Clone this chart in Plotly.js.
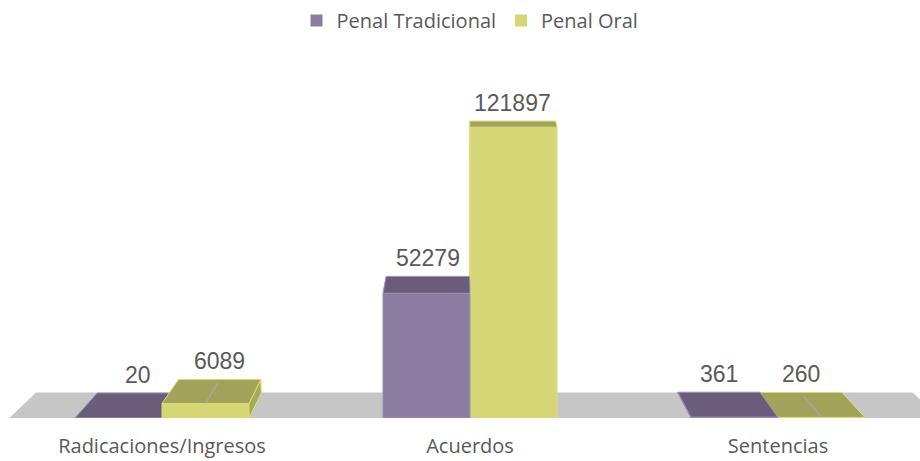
<!DOCTYPE html>
<html>
<head>
<meta charset="utf-8">
<script src="https://cdn.plot.ly/plotly-3.0.1.min.js"></script>
<style>html,body{margin:0;padding:0;background:#fff;}#chart{width:920px;height:461px;}</style>
</head>
<body>
<div id="chart"></div>
<script>
// ---- data ----
const categories = ["Radicaciones/Ingresos", "Acuerdos", "Sentencias"];
const seriesNames = ["Penal Tradicional", "Penal Oral"];
const penalTradicional = [20, 52279, 361];
const penalOral = [6089, 121897, 260];

// ---- styles ----
const FRONT = ["#8B7CA2", "#D5D777"];
const TOP = ["#6A5C7B", "#A2A35B"];
const SIDE = ["#766892", "#A7A85C"];
const EDGE = ["#9E91BA", "#DCDD72"];
const FLOOR = "#C6C6C6";
const TEXT = "#595959";

// ---- geometry helpers (derived from the axis ranges) ----
const W = 920, H = 461, M = {l: 8, r: 0, t: 84, b: 43, pad: 0};
const PW = W - M.l - M.r, PH = H - M.t - M.b;
const XR = [-0.5, -0.5 + PW / 308];
const YR = [0, 140000];
const xpx = x => M.l + (x - XR[0]) / (XR[1] - XR[0]) * PW;
const xdat = p => XR[0] + (p - M.l) / PW * (XR[1] - XR[0]);
const ypx = y => M.t + (1 - (y - YR[0]) / (YR[1] - YR[0])) * PH;
const ydat = p => YR[0] + (1 - (p - M.t) / PH) * (YR[1] - YR[0]);
const BASE = ypx(0);
const VX = 462, PERSP = 435, FLOOR_DEPTH = 25, DEPTH_SLOPE = 0.065;
const depthAt = py => FLOOR_DEPTH - DEPTH_SLOPE * (BASE - py);
function back(x, y, frac) {
  const f = frac === undefined ? 1 : frac;
  const px = xpx(x), py = ypx(y), d = depthAt(py) * f;
  return [xdat(px + d * (VX - px) / PERSP), ydat(py - d)];
}
const BW = 0.2825;

const traces = [];
// legend / base bars
[penalTradicional, penalOral].forEach((vals, s) => {
  traces.push({
    type: "bar", name: seriesNames[s], x: categories.map((c, i) => i), y: vals,
    marker: {color: FRONT[s]}, hoverinfo: "none"
  });
});

function poly(pts, fill, edge) {
  traces.push({
    type: "scatter", mode: "lines", fill: "toself", fillcolor: fill,
    x: pts.map(p => p[0]).concat([pts[0][0]]),
    y: pts.map(p => p[1]).concat([pts[0][1]]),
    line: {color: edge, width: 1}, showlegend: false, hoverinfo: "skip"
  });
}

// floor
const fl = xdat(10), fr = xdat(940);
poly([[fl, 0], [fr, 0], back(fr, 0), back(fl, 0)], FLOOR, FLOOR);

const annotations = [];
categories.forEach((cat, i) => {
  const bars = [
    {s: 0, v: penalTradicional[i], xl: i - BW, xr: i},
    {s: 1, v: penalOral[i], xl: i, xr: i + BW}
  ];
  const order = xpx(i) < VX ? bars : bars.slice().reverse();
  order.forEach(b => {
    const {s, v, xl, xr} = b;
    // front face
    poly([[xl, 0], [xr, 0], [xr, v], [xl, v]], FRONT[s], EDGE[s]);
    // side faces
    if (xpx(xr) < VX) {
      poly([[xr, 0], [xr, v], back(xr, v), back(xr, 0)], SIDE[s], EDGE[s]);
    }
    if (xpx(xl) > VX) {
      poly([[xl, 0], [xl, v], back(xl, v), back(xl, 0)], SIDE[s], EDGE[s]);
    }
    // top face
    poly([[xl, v], [xr, v], back(xr, v), back(xl, v)], TOP[s], EDGE[s]);
    // faint centre line visible on low olive tops
    if (s === 1 && ypx(v) > BASE - 30) {
      const xc = (xl + xr) / 2, p2 = back(xc, v, 0.85);
      traces.push({
        type: "scatter", mode: "lines", x: [xc, p2[0]], y: [v, p2[1]],
        line: {color: "#A6A6A6", width: 1.5}, showlegend: false, hoverinfo: "skip"
      });
    }
    const bl = back(xl, v), br = back(xr, v);
    annotations.push({
      x: (bl[0] + br[0]) / 2, y: bl[1], xref: "x", yref: "y",
      text: String(v), showarrow: false, yanchor: "bottom", yshift: 3,
      font: {family: "Liberation Sans, Arial, sans-serif", size: 23, color: TEXT}
    });
  });
});

const layout = {
  width: W, height: H, margin: M,
  paper_bgcolor: "#fff", plot_bgcolor: "#fff",
  barmode: "group", bargap: 1 - 2 * BW, bargroupgap: 0,
  showlegend: true,
  legend: {
    orientation: "h", x: (470 - M.l) / PW, xanchor: "center",
    y: 1 + (M.t - 1) / PH, yanchor: "top",
    font: {family: "Open Sans, sans-serif", size: 20, color: TEXT},
    traceorder: "normal", itemclick: false, itemwidth: 30
  },
  xaxis: {
    range: XR, tickvals: categories.map((c, i) => i), ticktext: categories,
    showgrid: false, zeroline: false, showline: false,
    ticks: "outside", ticklen: 10, tickcolor: "rgba(0,0,0,0)",
    tickfont: {family: "Open Sans, sans-serif", size: 20, color: TEXT},
    fixedrange: true
  },
  yaxis: {
    range: YR, showgrid: false, zeroline: false, showline: false,
    showticklabels: false, ticks: "", fixedrange: true
  },
  annotations: annotations
};

Plotly.newPlot("chart", traces, layout, {displayModeBar: false, staticPlot: true});
</script>
</body>
</html>
